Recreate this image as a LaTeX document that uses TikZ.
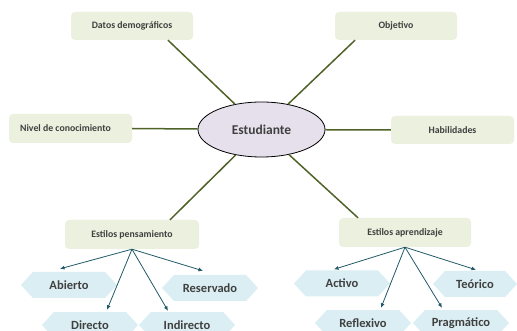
\documentclass[tikz,border=0pt]{standalone}
\usepackage{fontspec}
\setmainfont{Carlito}
\usetikzlibrary{shapes.geometric,shapes.symbols,arrows.meta}
\definecolor{boxfill}{HTML}{EBF1DE}
\definecolor{ellfill}{HTML}{E5E0EC}
\definecolor{hexfill}{HTML}{DAEEF3}
\definecolor{txt}{HTML}{404040}
\definecolor{lnk}{HTML}{4F6228}
\definecolor{arr}{HTML}{215968}
\begin{document}
\begin{tikzpicture}[x=1pt,y=-1pt,
  greenbox/.style={fill=boxfill, rounded corners=4pt, minimum width=122pt, minimum height=28pt, inner sep=0pt, text=txt, font=\fontsize{9.8}{12}\selectfont\bfseries},
  hexbox/.style={signal, signal to=east and west, signal pointer angle=95, fill=hexfill, minimum width=96pt, minimum height=26pt, inner sep=0pt, text=txt, font=\fontsize{12.5}{14}\selectfont\bfseries},
  gline/.style={draw=lnk, line width=1.5pt},
  aline/.style={draw=arr, line width=0.8pt, -{Latex[length=4.5pt,width=4pt]}}]
\useasboundingbox (0,0) rectangle (517,331);
\clip (0,0) rectangle (517,331);
% main boxes
\node[greenbox] (dat) at (132,26) {Datos demográficos};
\node[greenbox] (obj) at (396,26) {Objetivo};
\node[greenbox, minimum width=123pt, minimum height=29pt] (niv) at (70.5,128.5) {\hspace*{-10pt}Nivel de conocimiento};
\node[greenbox, minimum width=123pt] (hab) at (452.5,130) {Habilidades};
\node[ellipse, draw=black, line width=0.8pt, fill=ellfill, minimum width=127pt, minimum height=55pt, inner sep=0pt, text=txt, font=\fontsize{13.5}{16}\selectfont\bfseries] (st) at (261.5,129.5) {Estudiante};
\node[greenbox, minimum width=134pt, minimum height=29pt] (pen) at (132,234.5) {Estilos pensamiento};
\node[greenbox, minimum width=132pt, minimum height=29pt] (apr) at (405,232.5) {Estilos aprendizaje};
% green links
\draw[gline] ([xshift=36pt]dat.south) -- (st);
\draw[gline] ([xshift=-41pt]obj.south) -- (st);
\draw[gline] (niv.east) -- (st);
\draw[gline] (hab.west) -- (st);
\draw[gline] ([xshift=38pt]pen.north) -- (st);
\draw[gline] ([xshift=-47pt]apr.north) -- (st);
% hexagons
\node[hexbox] (ab) at (69,285) {Abierto};
\node[hexbox] (re) at (210,288) {Reservado};
\node[hexbox] (di) at (90,325) {Directo};
\node[hexbox] (in) at (187,325) {Indirecto};
\node[hexbox] (ac) at (342,283.5) {Activo};
\node[hexbox, minimum width=84pt] (te) at (475,284) {Teórico};
\node[hexbox] (rf) at (363,323) {Reflexivo};
\node[hexbox] (pr) at (461,323) {Pragmático};
% arrows
\draw[aline] (pen.south) -- ([xshift=-9pt,yshift=3pt]ab.north);
\draw[aline] (pen.south) -- ([xshift=-7pt,yshift=4pt]re.north);
\draw[aline] (pen.south) -- ([xshift=17pt,yshift=2pt]di.north);
\draw[aline] (pen.south) -- ([xshift=-19pt,yshift=1pt]in.north);
\draw[aline] (apr.south) -- ([xshift=-8pt,yshift=1pt]ac.north);
\draw[aline] (apr.south) -- ([xshift=1pt,yshift=1pt]te.north);
\draw[aline] (apr.south) -- ([xshift=18pt,yshift=2pt]rf.north);
\draw[aline] (apr.south) -- ([xshift=-19pt,yshift=2pt]pr.north);
\end{tikzpicture}
\end{document}
